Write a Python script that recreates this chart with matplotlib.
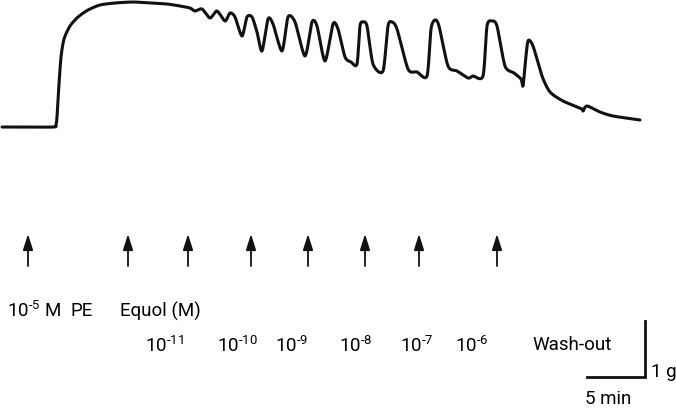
import numpy as np
import matplotlib.pyplot as plt

# tension trace (pixel readings, converted below to min and g)
px_per_min = 58 / 5
px_per_g = 56
base_px = 128

trace_x = [2, 30, 54, 56, 57, 59, 61, 64, 70, 78, 88, 100, 115, 133, 150, 167, 180, 190,
           195, 202, 210, 217, 225, 230, 235, 242, 247, 252, 257, 262, 268, 273,
           282, 288, 295, 305, 312, 317, 325, 333, 338, 345, 351, 357, 360, 363,
           367, 373, 383, 388, 392, 397, 408, 417, 427, 431, 435, 439, 448, 457,
           468, 473, 483, 487, 492, 497, 505, 514, 521, 523, 525, 528, 533, 542,
           550, 563, 582, 583, 587, 600, 613, 640]
trace_y = [128, 128, 128, 126, 118, 85, 58, 40, 27, 18, 11, 6, 4, 3, 4, 5, 7, 9,
           12, 10, 19, 12, 22, 14, 18, 37, 18, 18, 33, 52, 20, 25,
           52, 18, 23, 57, 23, 27, 62, 25, 30, 58, 63, 65, 27, 23,
           27, 65, 72, 27, 23, 30, 70, 73, 77, 30, 21, 27, 67, 72,
           79, 77, 77, 27, 22, 27, 67, 74, 80, 87, 67, 42, 47, 77,
           93, 102, 110, 112, 107, 113, 117, 121]

time_min = np.array(trace_x) / px_per_min
tension_g = (base_px - np.array(trace_y)) / px_per_g

# drug additions (arrow positions)
arrow_px = [28, 128, 188, 251, 308, 365, 419, 497]
arrow_t = np.array(arrow_px) / px_per_min

dose_labels = ['$10^{\\text{-}11}$', '$10^{\\text{-}10}$', '$10^{\\text{-}9}$',
               '$10^{\\text{-}8}$', '$10^{\\text{-}7}$', '$10^{\\text{-}6}$']
dose_px = [164, 237, 292, 356, 417, 472]

plt.rcParams['font.family'] = ['Roboto', 'DejaVu Sans']
plt.rcParams['mathtext.fontset'] = 'custom'
plt.rcParams['mathtext.rm'] = 'Roboto'
plt.rcParams['mathtext.default'] = 'rm'


def catmull_rom(x, y, n=12, tension=0.25):
    # pen-like smoothing through the read points
    p = np.column_stack([x, y])
    p = np.vstack([p[0], p, p[-1]])
    out = []
    s = np.linspace(0, 1, n, endpoint=False)[:, None]
    h00 = 2 * s ** 3 - 3 * s ** 2 + 1
    h10 = s ** 3 - 2 * s ** 2 + s
    h01 = -2 * s ** 3 + 3 * s ** 2
    h11 = s ** 3 - s ** 2
    for i in range(1, len(p) - 2):
        p0, p1, p2, p3 = p[i - 1], p[i], p[i + 1], p[i + 2]
        m1 = (1 - tension) * (p2 - p0) / 2
        m2 = (1 - tension) * (p3 - p1) / 2
        out.append(h00 * p1 + h10 * m1 + h01 * p2 + h11 * m2)
    out.append(p[-2][None, :])
    out = np.vstack(out)
    return out[:, 0], out[:, 1]


fig = plt.figure(figsize=(6.76, 4.10), dpi=100)
ax = fig.add_axes([0, 0, 1, 1])
ax.set_xlim(0, 676 / px_per_min)
ax.set_ylim((base_px - 410) / px_per_g, base_px / px_per_g)
ax.axis('off')

sx, sy = catmull_rom(time_min, tension_g)
ax.plot(sx, sy, color='#111111', lw=2.2, solid_joinstyle='round', solid_capstyle='round')


def gy(py):
    return (base_px - py) / px_per_g


def tx(px):
    return px / px_per_min


for t in arrow_t:
    ax.annotate('', xy=(t, gy(235)), xytext=(t, gy(267)),
                arrowprops=dict(arrowstyle='-|>,head_length=0.95,head_width=0.3',
                                color='#111111', lw=1.3, shrinkA=0, shrinkB=0))

fs = 13.5
ax.text(tx(7), gy(311), '$10^{\\text{-}5}$ M', fontsize=fs, va='center', ha='left')
ax.text(tx(70), gy(311), 'PE', fontsize=fs, va='center', ha='left')
ax.text(tx(120), gy(311), 'Equol (M)', fontsize=fs, va='center', ha='left')
for lab, px in zip(dose_labels, dose_px):
    ax.text(tx(px), gy(346), lab, fontsize=fs, va='center', ha='center')
ax.text(tx(532), gy(345), 'Wash-out', fontsize=fs, va='center', ha='left')

# scale bars: 5 min and 1 g
ax.plot([tx(587), tx(587) + 5, tx(587) + 5], [gy(378), gy(378), gy(378) + 1],
        color='#111111', lw=2.0, solid_joinstyle='miter')
ax.text(tx(651), gy(372), '1 g', fontsize=fs, va='center', ha='left')
ax.text(tx(585), gy(399), '5 min', fontsize=fs, va='center', ha='left')

fig.savefig('out.png', dpi=100)
